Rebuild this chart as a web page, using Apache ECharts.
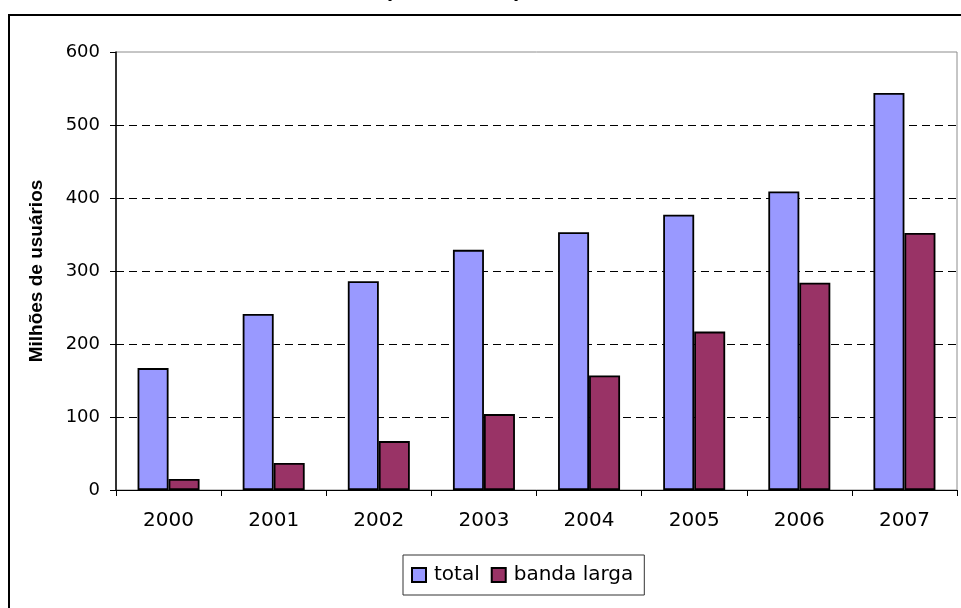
<!DOCTYPE html>
<html>
<head>
<meta charset="utf-8">
<script src="https://cdn.jsdelivr.net/npm/echarts@6/dist/echarts.min.js"></script>
<style>
  html, body { margin: 0; padding: 0; background: #ffffff; }
  #chart { width: 961px; height: 608px; }
</style>
</head>
<body>
<div id="chart"></div>
<script>
// Internet users per year, in millions
const years = ['2000', '2001', '2002', '2003', '2004', '2005', '2006', '2007'];
const total = [167, 241, 286, 329, 353, 377, 409, 544];
const bandaLarga = [15, 37, 67, 104, 157, 217, 284, 352];
const yTicks = { min: 0, max: 600, interval: 100 };

const chart = echarts.init(document.getElementById('chart'));

const barStyle = (color) => ({
  color: color,
  borderColor: '#000000',
  borderWidth: 1.8
});

chart.setOption({
  animation: false,
  backgroundColor: '#ffffff',
  textStyle: { fontFamily: 'DejaVu Sans', color: '#000000' },
  graphic: [
    {
      type: 'rect',
      shape: { x: 9, y: 15, width: 1000, height: 1000 },
      style: { fill: 'none', stroke: '#000000', lineWidth: 2 },
      silent: true
    },
    {
      type: 'text',
      x: 453,
      y: -10.5,
      style: {
        text: '(2000 – 2007)',
        font: 'bold 22px "Liberation Sans"',
        fill: '#000000',
        align: 'center',
        verticalAlign: 'middle'
      },
      silent: true
    }
  ],
  grid: {
    left: 116,
    right: 4,
    top: 52,
    bottom: 118,
    show: true,
    borderColor: '#8c8c8c',
    borderWidth: 1
  },
  legend: {
    data: ['total', 'banda larga'],
    left: 403,
    top: 555,
    orient: 'horizontal',
    itemWidth: 14,
    itemHeight: 14,
    itemGap: 11,
    padding: [10, 11, 10, 8],
    borderColor: '#333333',
    borderWidth: 1,
    icon: 'rect',
    textStyle: {
      fontFamily: 'DejaVu Sans',
      fontSize: 20,
      color: '#000000',
      padding: [0, 0, 0, 3]
    }
  },
  xAxis: {
    type: 'category',
    data: years,
    axisLine: { lineStyle: { color: '#000000', width: 1 } },
    axisTick: { show: true, length: 6, alignWithLabel: false, lineStyle: { color: '#000000' } },
    axisLabel: { fontFamily: 'DejaVu Sans', fontSize: 20, color: '#000000', margin: 21 },
    splitLine: { show: false }
  },
  yAxis: {
    type: 'value',
    min: yTicks.min,
    max: yTicks.max,
    interval: yTicks.interval,
    name: 'Milhões de usuários',
    nameLocation: 'middle',
    nameGap: 70,
    nameRotate: 90,
    nameTextStyle: {
      fontFamily: 'Liberation Sans',
      fontWeight: 'bold',
      fontSize: 19,
      color: '#000000'
    },
    axisLine: { show: true, lineStyle: { color: '#000000', width: 1.5 } },
    axisTick: { show: true, length: 6, lineStyle: { color: '#000000' } },
    axisLabel: { fontFamily: 'DejaVu Sans', fontSize: 18, color: '#000000', margin: 16 },
    splitLine: {
      show: true,
      showMinLine: false,
      showMaxLine: false,
      lineStyle: { color: '#000000', type: [8, 5], width: 1 }
    }
  },
  series: [
    {
      name: 'total',
      type: 'bar',
      data: total,
      barWidth: 31,
      barGap: '0%',
      itemStyle: barStyle('#9999FF')
    },
    {
      name: 'banda larga',
      type: 'bar',
      data: bandaLarga,
      barWidth: 31,
      barGap: '0%',
      itemStyle: barStyle('#993366')
    }
  ]
});
</script>
</body>
</html>
